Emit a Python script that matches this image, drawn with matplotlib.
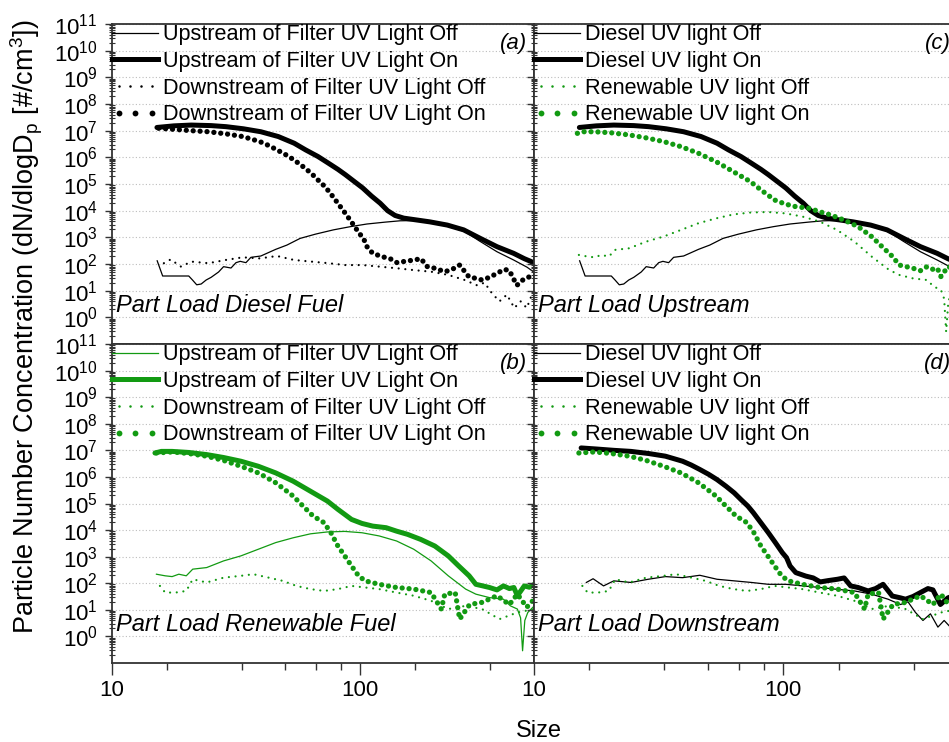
import numpy as np
import matplotlib
matplotlib.use('Agg')
import matplotlib.pyplot as plt
from matplotlib.lines import Line2D
from matplotlib.legend_handler import HandlerLine2D
from matplotlib.ticker import FixedLocator, NullFormatter, LogLocator, LogFormatterMathtext

# ---------------- data (log10 of size [nm], log10 of dN/dlogDp) ----------------
# Diesel fuel, upstream of filter, UV light off
dsl_up_off_lx = [1.183, 1.205, 1.31, 1.325, 1.342, 1.36, 1.38, 1.40, 1.43, 1.45, 1.48, 1.50, 1.517, 1.54,
                 1.56, 1.60, 1.624, 1.66, 1.705, 1.758, 1.82, 1.892, 1.96, 2.027, 2.10, 2.16, 2.22, 2.28,
                 2.35, 2.42, 2.48, 2.55, 2.617, 2.671, 2.698]
dsl_up_off_ly = [2.12, 1.55, 1.55, 1.40, 1.22, 1.25, 1.40, 1.50, 1.70, 1.90, 1.85, 2.05, 2.10, 2.05,
                 2.25, 2.30, 2.40, 2.55, 2.71, 2.96, 3.12, 3.28, 3.40, 3.50, 3.57, 3.62, 3.63, 3.58,
                 3.42, 3.22, 2.86, 2.46, 2.15, 1.88, 1.70]
# Diesel fuel, upstream of filter, UV light on
dsl_up_on_lx = [1.182, 1.25, 1.32, 1.40, 1.46, 1.53, 1.60, 1.67, 1.734, 1.78, 1.83, 1.872, 1.91, 1.94,
                1.975, 2.01, 2.045, 2.08, 2.11, 2.14, 2.175, 2.22, 2.28, 2.35, 2.416, 2.483, 2.55,
                2.617, 2.66, 2.698]
dsl_up_on_ly = [7.12, 7.18, 7.21, 7.19, 7.15, 7.07, 6.96, 6.78, 6.53, 6.28, 6.03, 5.78, 5.55, 5.35,
                5.10, 4.85, 4.55, 4.28, 4.00, 3.82, 3.72, 3.66, 3.58, 3.46, 3.28, 2.96, 2.65,
                2.40, 2.20, 2.05]
# Diesel fuel, downstream of filter, UV light off
dsl_dn_off_lx = [1.21, 1.237, 1.279, 1.32, 1.389, 1.458, 1.527, 1.596, 1.665, 1.734, 1.803, 1.872, 1.94,
                 2.01, 2.079, 2.148, 2.217, 2.286, 2.354, 2.42, 2.47, 2.50, 2.53, 2.56, 2.59, 2.62,
                 2.645, 2.67, 2.69]
dsl_dn_off_ly = [2.03, 2.17, 1.90, 2.09, 2.03, 2.15, 2.25, 2.21, 2.30, 2.15, 2.09, 2.03, 1.96,
                 1.96, 1.90, 1.84, 1.77, 1.71, 1.59, 1.40, 1.20, 1.30, 0.90, 0.60, 0.85, 0.35,
                 0.60, 0.35, 0.84]
# Diesel fuel, downstream of filter, UV light on
dsl_dn_on_lx = [1.189, 1.25, 1.32, 1.389, 1.46, 1.527, 1.596, 1.63, 1.665, 1.70, 1.734, 1.77, 1.803,
                1.83, 1.858, 1.88, 1.90, 1.92, 1.94, 1.968, 1.996, 2.013, 2.027, 2.05, 2.09, 2.12,
                2.148, 2.18, 2.217, 2.244, 2.27, 2.30, 2.34, 2.37, 2.40, 2.437, 2.47, 2.49, 2.52,
                2.55, 2.58, 2.60, 2.63, 2.66, 2.69]
dsl_dn_on_ly = [7.09, 7.05, 7.00, 6.96, 6.88, 6.78, 6.59, 6.45, 6.28, 6.10, 5.90, 5.65, 5.40,
                5.15, 4.90, 4.65, 4.40, 4.15, 3.90, 3.53, 3.15, 2.96, 2.65, 2.40, 2.27, 2.20,
                2.05, 2.10, 2.15, 2.20, 1.90, 1.84, 1.71, 1.80, 1.96, 1.52, 1.45, 1.40, 1.50,
                1.65, 1.80, 1.75, 1.20, 1.45, 1.55]
# Renewable fuel, upstream of filter, UV light off
ren_up_off_lx = [1.18, 1.215, 1.243, 1.27, 1.30, 1.326, 1.382, 1.45, 1.52, 1.59, 1.66, 1.73, 1.80, 1.868,
                 1.9375, 2.007, 2.076, 2.146, 2.215, 2.285, 2.354, 2.424, 2.465, 2.52, 2.576, 2.604,
                 2.632, 2.645, 2.653, 2.662, 2.674, 2.70]
ren_up_off_ly = [2.34, 2.28, 2.25, 2.34, 2.28, 2.53, 2.59, 2.84, 3.03, 3.28, 3.53, 3.71, 3.86, 3.93,
                 3.95, 3.90, 3.78, 3.59, 3.28, 2.84, 2.28, 1.78, 1.59, 1.46, 1.40, 1.15,
                 1.03, 0.70, -0.54, 0.60, 0.90, 1.15]
# Renewable fuel, upstream of filter, UV light on
ren_up_on_lx = [1.174, 1.20, 1.243, 1.31, 1.382, 1.45, 1.52, 1.59, 1.66, 1.73, 1.80, 1.868, 1.91, 1.9375,
                1.965, 2.007, 2.05, 2.104, 2.146, 2.19, 2.243, 2.30, 2.354, 2.396, 2.438, 2.465, 2.493,
                2.52, 2.55, 2.576, 2.60, 2.618, 2.632, 2.645, 2.66, 2.68, 2.70]
ren_up_on_ly = [6.90, 6.96, 6.96, 6.92, 6.84, 6.73, 6.59, 6.40, 6.15, 5.84, 5.46, 5.09, 4.78, 4.59,
                4.40, 4.25, 4.15, 4.09, 3.96, 3.84, 3.65, 3.40, 3.03, 2.65, 2.28, 1.96, 1.90,
                1.84, 1.75, 1.90, 1.80, 1.84, 1.53, 1.70, 1.90, 1.85, 1.96]
# Renewable fuel, downstream of filter, UV light off
ren_dn_off_lx = [1.194, 1.215, 1.257, 1.30, 1.326, 1.382, 1.45, 1.52, 1.57, 1.632, 1.688, 1.743, 1.80,
                 1.854, 1.91, 1.965, 2.02, 2.076, 2.146, 2.215, 2.285, 2.354, 2.424, 2.49, 2.56,
                 2.632, 2.70]
ren_dn_off_ly = [1.90, 1.65, 1.65, 1.71, 2.15, 2.03, 2.21, 2.28, 2.34, 2.21, 2.09, 1.90, 1.78,
                 1.71, 1.78, 1.90, 1.84, 1.78, 1.65, 1.53, 1.34, 1.03, 1.15, 1.03, 0.65,
                 0.90, 1.03]
# Renewable fuel, downstream of filter, UV light on
ren_dn_on_lx = [1.18, 1.243, 1.31, 1.382, 1.45, 1.52, 1.59, 1.66, 1.73, 1.77, 1.81, 1.854, 1.882, 1.91,
                1.9375, 1.965, 1.993, 2.02, 2.076, 2.146, 2.215, 2.285, 2.326, 2.34, 2.382, 2.40,
                2.44, 2.49, 2.55, 2.60, 2.632, 2.67, 2.70]
ren_dn_on_ly = [6.90, 6.94, 6.88, 6.78, 6.62, 6.40, 6.15, 5.78, 5.28, 4.90, 4.53, 4.28, 3.90, 3.40,
                3.03, 2.65, 2.28, 2.09, 1.96, 1.84, 1.78, 1.65, 1.03, 1.59, 1.65, 0.65,
                1.20, 1.28, 1.53, 1.20, 1.59, 1.10, 1.40]

labels_ab = ["Upstream of Filter UV Light Off", "Upstream of Filter UV Light On",
             "Downstream of Filter UV Light Off", "Downstream of Filter UV Light On"]
labels_cd = ["Diesel UV light Off", "Diesel UV light On",
             "Renewable UV light Off", "Renewable UV light On"]
panel_tags = ["(a)", "(c)", "(b)", "(d)"]
panel_notes = ["Part Load Diesel Fuel", "Part Load Upstream",
               "Part Load Renewable Fuel", "Part Load Downstream"]
x_major = [10, 100]
x_minor = [100 / 6 * k for k in range(1, 6)] + [1000 / 6 * k for k in range(1, 3)]
y_major = [10.0 ** k for k in range(0, 12)]

# ---------------- style ----------------
plt.rcParams['font.family'] = ['Liberation Sans', 'DejaVu Sans']
plt.rcParams['mathtext.fontset'] = 'custom'
plt.rcParams['mathtext.rm'] = 'Liberation Sans'
plt.rcParams['mathtext.it'] = 'Liberation Sans:italic'
plt.rcParams['mathtext.bf'] = 'Liberation Sans:bold'

BLACK = '#000000'
GREEN = '#129a12'
SPINE = '#333333'

fig = plt.figure(figsize=(9.49, 7.42), dpi=100)
W, H = 949.0, 742.0
xl0, xl1 = 111.7, 534.0
xr0, xr1 = 534.0, 957.6
yt0, yt1 = 24.0, 344.0
yb0, yb1 = 344.0, 663.0


def rect(x0, x1, y0, y1):
    return [x0 / W, (H - y1) / H, (x1 - x0) / W, (y1 - y0) / H]


ax_a = fig.add_axes(rect(xl0, xl1, yt0, yt1))
ax_b = fig.add_axes(rect(xl0, xl1, yb0, yb1))
ax_c = fig.add_axes(rect(xr0, xr1, yt0, yt1))
ax_d = fig.add_axes(rect(xr0, xr1, yb0, yb1))


def style(ax, left_labels, bottom):
    ax.set_xscale('log')
    ax.set_yscale('log')
    ax.set_xlim(10, 500)
    ax.set_ylim(1e-1, 1e11)
    ax.xaxis.set_major_locator(FixedLocator(x_major))
    ax.xaxis.set_minor_locator(FixedLocator(x_minor))
    ax.xaxis.set_major_formatter(matplotlib.ticker.FuncFormatter(lambda v, p: f"{v:g}"))
    ax.xaxis.set_minor_formatter(NullFormatter())
    ax.yaxis.set_major_locator(FixedLocator(y_major))
    ax.yaxis.set_minor_locator(LogLocator(base=10, subs=np.arange(2, 10), numticks=40))
    ax.yaxis.set_major_formatter(LogFormatterMathtext())
    ax.yaxis.set_minor_formatter(NullFormatter())
    for s in ax.spines.values():
        s.set_color(SPINE)
        s.set_linewidth(1.3)
    ax.grid(axis='y', which='major', color='#bdbdbd', linestyle=(0, (1, 2)), linewidth=0.8)
    ax.set_axisbelow(True)
    ax.tick_params(axis='y', which='major', direction='out', length=5, width=1.0, color=SPINE,
                   labelsize=16, pad=5, labelleft=left_labels)
    ax.tick_params(axis='y', which='minor', direction='inout', length=4, width=0.8, color=SPINE)
    if bottom:
        ax.tick_params(axis='x', which='major', direction='out', length=8.5, width=1.0, color=SPINE,
                       labelsize=16, pad=4)
        ax.tick_params(axis='x', which='minor', direction='out', length=5, width=1.0, color=SPINE)
    else:
        ax.tick_params(axis='x', which='both', length=0, labelbottom=False)


style(ax_a, True, False)
style(ax_b, True, True)
style(ax_c, False, False)
style(ax_d, False, True)


def P(lx):
    return 10.0 ** np.asarray(lx)


def thin(ax, lx, ly, c):
    ax.plot(P(lx), P(ly), color=c, lw=0.9, zorder=3)


def thick(ax, lx, ly, c):
    ax.plot(P(lx), P(ly), color=c, lw=3.6, solid_capstyle='round', solid_joinstyle='round', zorder=4)


def small_dots(ax, lx, ly, c):
    ax.plot(P(lx), P(ly), color=c, lw=1.6, linestyle=(0, (0.01, 3.0)), dash_capstyle='round', zorder=3)


def big_dots(ax, lx, ly, c):
    ax.plot(P(lx), P(ly), color=c, lw=3.8, linestyle=(0, (0.01, 1.3)), dash_capstyle='round', zorder=4)


# (a) diesel
thin(ax_a, dsl_up_off_lx, dsl_up_off_ly, BLACK)
thick(ax_a, dsl_up_on_lx, dsl_up_on_ly, BLACK)
small_dots(ax_a, dsl_dn_off_lx, dsl_dn_off_ly, BLACK)
big_dots(ax_a, dsl_dn_on_lx, dsl_dn_on_ly, BLACK)
# (b) renewable
thin(ax_b, ren_up_off_lx, ren_up_off_ly, GREEN)
thick(ax_b, ren_up_on_lx, ren_up_on_ly, GREEN)
small_dots(ax_b, ren_dn_off_lx, ren_dn_off_ly, GREEN)
big_dots(ax_b, ren_dn_on_lx, ren_dn_on_ly, GREEN)
# (c) upstream
thin(ax_c, dsl_up_off_lx, dsl_up_off_ly, BLACK)
thick(ax_c, dsl_up_on_lx, dsl_up_on_ly, BLACK)
small_dots(ax_c, ren_up_off_lx, ren_up_off_ly, GREEN)
big_dots(ax_c, ren_up_on_lx, ren_up_on_ly, GREEN)
# (d) downstream
thin(ax_d, dsl_dn_off_lx, dsl_dn_off_ly, BLACK)
thick(ax_d, dsl_dn_on_lx, dsl_dn_on_ly, BLACK)
small_dots(ax_d, ren_dn_off_lx, ren_dn_off_ly, GREEN)
big_dots(ax_d, ren_dn_on_lx, ren_dn_on_ly, GREEN)


def legend(ax, labels, colors):
    h1 = Line2D([], [], color=colors[0], lw=0.9)
    h2 = Line2D([], [], color=colors[1], lw=3.6)
    h3 = Line2D([], [], color=colors[2], ls='none', marker='o', ms=1.8, mew=0)
    h4 = Line2D([], [], color=colors[3], ls='none', marker='o', ms=4.2, mew=0)
    ax.legend([h1, h2, h3, h4], labels, loc='upper left', bbox_to_anchor=(0.0, 1.0),
              frameon=False, fontsize=15.6, handlelength=2.12, handletextpad=0.23,
              labelspacing=0.26, borderaxespad=0.0, borderpad=0.02,
              handler_map={h3: HandlerLine2D(numpoints=4), h4: HandlerLine2D(numpoints=3)})


legend(ax_a, labels_ab, [BLACK] * 4)
legend(ax_b, labels_ab, [GREEN] * 4)
legend(ax_c, labels_cd, [BLACK, BLACK, GREEN, GREEN])
legend(ax_d, labels_cd, [BLACK, BLACK, GREEN, GREEN])

for ax, tag, note in zip([ax_a, ax_c, ax_b, ax_d], panel_tags, panel_notes):
    w = ax.get_position().width * W
    ax.text(1 - 7 / w, 0.94, tag, transform=ax.transAxes, ha='right', va='center',
            fontsize=16, style='italic')
    ax.text(4 / w, 0.1, note, transform=ax.transAxes, ha='left', va='baseline',
            fontsize=17, style='italic')

fig.text(27 / W, (H - 327) / H, r"Particle Number Concentration (dN/dlogD$_\mathrm{p}$ [#/cm$^3$])",
         rotation=90, ha='center', va='center', fontsize=19.5)
fig.text(539 / W, (H - 731) / H, "Size", ha='center', va='center', fontsize=17)

fig.savefig('out.png', dpi=100)
